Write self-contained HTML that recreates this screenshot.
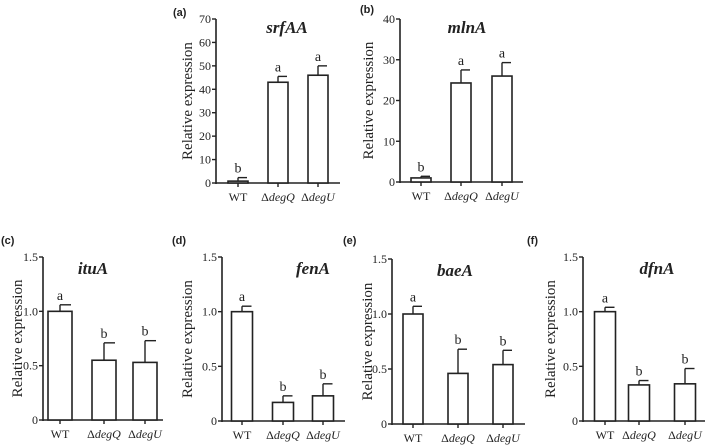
<!DOCTYPE html>
<html><head><meta charset="utf-8"><style>
html,body{margin:0;padding:0;background:#fff;}
svg{display:block;}
.t{font-family:"Liberation Serif",serif;fill:#222;}
.pl{font-family:"Liberation Sans",sans-serif;font-weight:bold;font-size:11px;fill:#222;}
</style></head><body>
<svg id="fig" width="709" height="445" viewBox="0 0 709 445" xmlns="http://www.w3.org/2000/svg"></svg>
<script>
const groups = ["WT","degQ","degU"];
const srfAAValues = [0.8, 43, 46];
const srfAAErrors = [1.5, 2.5, 4];
const srfAALetters = ["b","a","a"];
const mlnAValues = [1.0, 24.3, 26];
const mlnAErrors = [0.4, 3.2, 3.3];
const mlnALetters = ["b","a","a"];
const ituAValues = [1.0, 0.55, 0.53];
const ituAErrors = [0.06, 0.16, 0.2];
const fenAValues = [1.0, 0.17, 0.23];
const fenAErrors = [0.05, 0.06, 0.11];
const baeAValues = [1.0, 0.46, 0.54];
const baeAErrors = [0.07, 0.22, 0.13];
const dfnAValues = [1.0, 0.33, 0.34];
const dfnAErrors = [0.04, 0.04, 0.14];
const lowLetters = ["a","b","b"];
const ticksA = [0,10,20,30,40,50,60,70];
const ticksB = [0,10,20,30,40];
const ticksSmall = [0,0.5,1.0,1.5];
const tickLabelsSmall = ["0","0.5","1.0","1.5"];

const svg = document.getElementById('fig');
const NS = 'http://www.w3.org/2000/svg';
function mk(tag, attrs, parent){
  const e = document.createElementNS(NS, tag);
  for (const k in attrs) e.setAttribute(k, attrs[k]);
  (parent||svg).appendChild(e);
  return e;
}
function panel(p){
  const g = mk('g', {});
  
  
  const max = p.ticks[p.ticks.length-1];
  const yS = v => p.y0 - (v/max)*(p.y0-p.yt);
  const xS = i => p.cx[i];
  const ya = mk('line', {x1:p.ax,y1:p.yt,x2:p.ax,y2:p.y0+1,stroke:'#222','stroke-width':1.6}, g);
  
  
  const xa = mk('line', {x1:p.ax,y1:p.y0,x2:p.xe,y2:p.y0,stroke:'#222','stroke-width':1.6}, g);
  
  
  p.ticks.forEach((tv, i) => {
    const y = yS(tv);
    mk('line', {x1:p.ax-4,y1:y,x2:p.ax,y2:y,stroke:'#222','stroke-width':1.4}, g);
    const t = mk('text', {x:p.ax-5,y:y+4,'text-anchor':'end','font-size':12,class:'t'}, g);
    t.textContent = p.tl ? p.tl[i] : String(tv);
    
    
  });
  groups.forEach((gname, i) => {
    const cx = xS(i), v = p.vals[i], e = p.errs[i];
    const top = yS(v), et = yS(v+e);
    mk('line', {x1:cx,y1:top,x2:cx,y2:et,stroke:'#222','stroke-width':1.4}, g);
    mk('line', {x1:cx,y1:et,x2:cx+p.bw/2-1,y2:et,stroke:'#222','stroke-width':1.4}, g);
    const r = mk('rect', {x:cx-p.bw/2,y:top,width:p.bw,height:Math.max(p.y0-top,1),fill:'#fff',stroke:'#222','stroke-width':1.6}, g);
    
    
    mk('line', {x1:cx,y1:p.y0,x2:cx,y2:p.y0+4,stroke:'#222','stroke-width':1.4}, g);
    const l = mk('text', {x:cx,y:et-5,'text-anchor':'middle','font-size':14,class:'t'}, g);
    l.textContent = p.letters[i];
    
    
    const xl = mk('text', {x:cx,y:p.y0+18,'text-anchor':'middle','font-size':12,class:'t'}, g);
    if (gname === 'WT') { xl.textContent = 'WT'; }
    else {
      xl.textContent = '\u0394';
      const ts = mk('tspan', {'font-style':'italic'}, xl);
      ts.textContent = gname;
    }
    
    
  });
  const ti = mk('text', {x:p.tx,y:p.ty,'text-anchor':'middle','font-size':17,'font-weight':'bold','font-style':'italic',class:'t'}, g);
  ti.textContent = p.id;
  
  
  const pl = mk('text', {x:p.lx,y:p.ly,class:'pl'}, g);
  pl.textContent = p.lab;
  
  
  const ymid = (p.yt+p.y0)/2;
  const yt = mk('text', {x:p.yx,y:ymid,'text-anchor':'middle','font-size':15,class:'t',transform:'rotate(-90 '+p.yx+' '+ymid+')'}, g);
  yt.textContent = 'Relative expression';
  
  
}
panel({id:'srfAA',lab:'(a)',ax:216,yt:19,y0:183,xe:340,cx:[238,278,318],bw:20,ticks:ticksA,vals:srfAAValues,errs:srfAAErrors,letters:srfAALetters,tx:287,ty:33,lx:173,ly:16,yx:192});
panel({id:'mlnA',lab:'(b)',ax:400,yt:19,y0:182,xe:523,cx:[421,461,502],bw:20,ticks:ticksB,vals:mlnAValues,errs:mlnAErrors,letters:mlnALetters,tx:467,ty:33,lx:360,ly:13,yx:373});
panel({id:'ituA',lab:'(c)',ax:43,yt:257,y0:420,xe:163,cx:[60,104,145],bw:24,ticks:ticksSmall,tl:tickLabelsSmall,vals:ituAValues,errs:ituAErrors,letters:lowLetters,tx:93,ty:274,lx:1,ly:244,yx:22});
panel({id:'fenA',lab:'(d)',ax:222,yt:257,y0:421,xe:345,cx:[242,283,323],bw:21,ticks:ticksSmall,tl:tickLabelsSmall,vals:fenAValues,errs:fenAErrors,letters:lowLetters,tx:313,ty:274,lx:172,ly:244,yx:192});
panel({id:'baeA',lab:'(e)',ax:392,yt:259,y0:424,xe:525,cx:[413,458,503],bw:20,ticks:ticksSmall,tl:tickLabelsSmall,vals:baeAValues,errs:baeAErrors,letters:lowLetters,tx:455,ty:276,lx:343,ly:244,yx:372});
panel({id:'dfnA',lab:'(f)',ax:583,yt:257,y0:421,xe:705,cx:[605,639,685],bw:21,ticks:ticksSmall,tl:tickLabelsSmall,vals:dfnAValues,errs:dfnAErrors,letters:lowLetters,tx:657,ty:274,lx:527,ly:244,yx:555});
</script>
</body></html>
